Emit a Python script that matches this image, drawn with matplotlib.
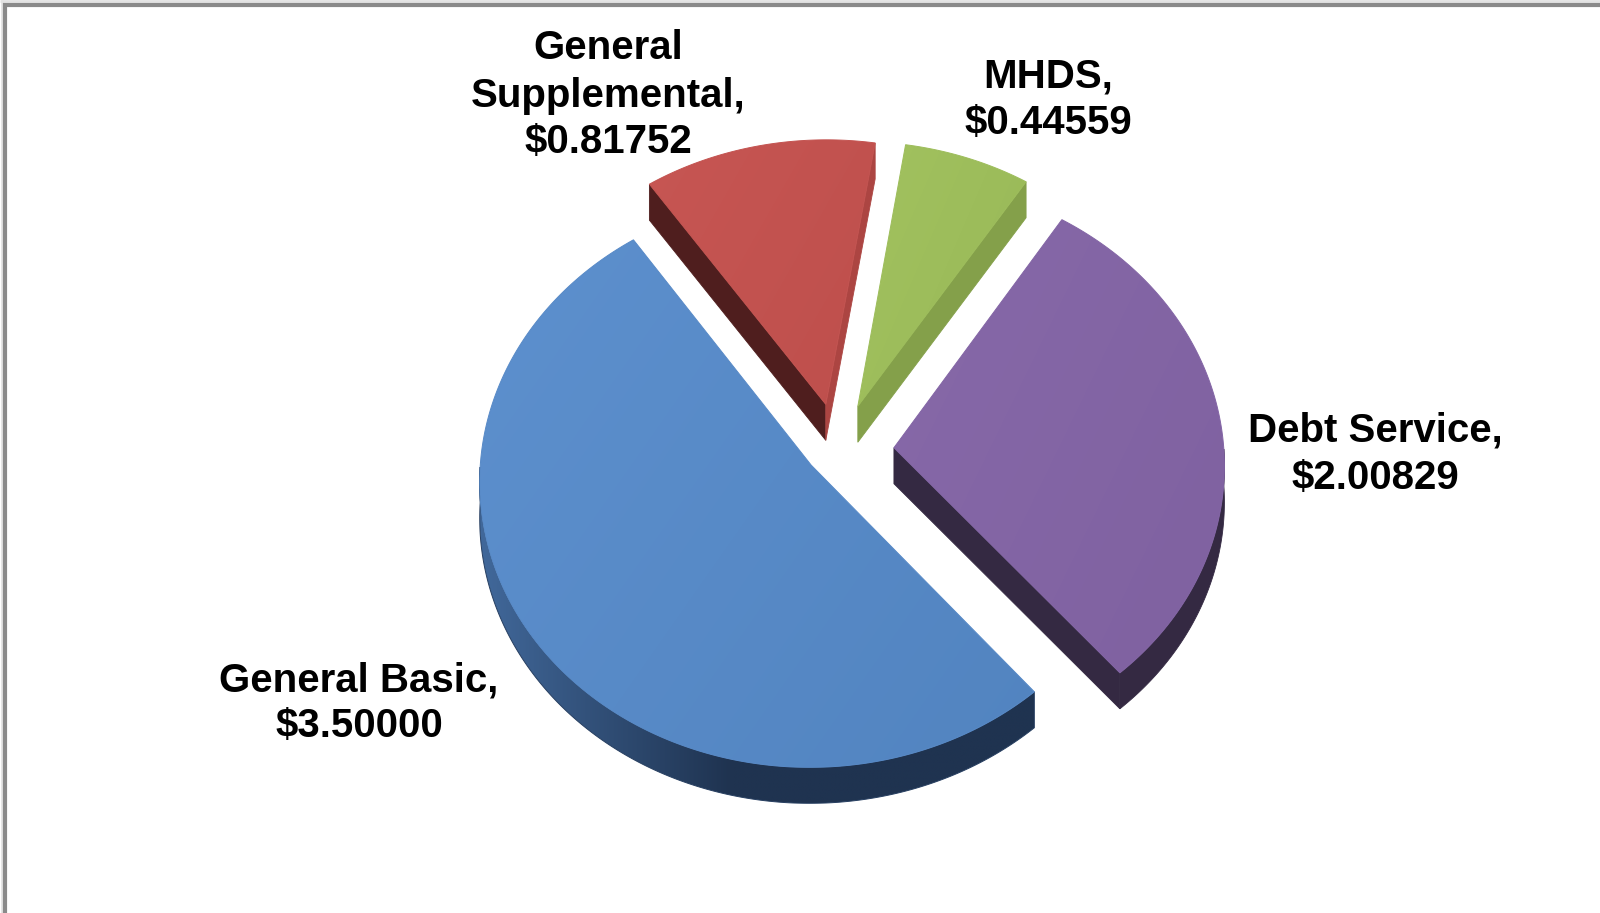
import numpy as np
import matplotlib
matplotlib.use("Agg")
import matplotlib.pyplot as plt
from matplotlib.patches import Polygon
from matplotlib.colors import to_rgb

# ---------------- data ----------------
categories = ["General Basic", "General Supplemental", "MHDS", "Debt Service"]
values = [3.50000, 0.81752, 0.44559, 2.00829]
label_lines = [
    ["General Basic,", "$3.50000"],
    ["General", "Supplemental,", "$0.81752"],
    ["MHDS,", "$0.44559"],
    ["Debt Service,", "$2.00829"],
]

# ---------------- style / layout ----------------
top_light = ["#5D90CE", "#C75653", "#A2C25F", "#8769A9"]
top_dark = ["#5284C0", "#BE4F4C", "#98B857", "#7F61A0"]
edge_hi_col = ["#1F3350", "#4F1E1E", "#5E7536", "#342942"]   # cut face at start edge
edge_lo_col = ["#1F3350", "#AC4542", "#84A04A", "#342942"]   # cut face at end edge
rim_light = ["#41689A", "#4F1E1E", "#84A04A", "#342942"]
rim_dark = ["#1F3350", "#4F1E1E", "#84A04A", "#342942"]
explode = [0.095, 0.17, 0.17, 0.17]
explode_turn = [-6.0, 0.0, 0.0, 0.0]
label_pos = [(359, [692, 737]), (608, [59, 107, 153]), (1048, [87, 134]), (1375, [442, 489])]

W, H = 1600, 913
CX, CY, RX, RY, P, DEPTH = 838, 451, 330, 284, 0.055, 36
START = -49.5

fig = plt.figure(figsize=(16, 9.13), dpi=100)
ax = fig.add_axes([0, 0, 1, 1])
ax.set_xlim(0, W)
ax.set_ylim(H, 0)
ax.axis("off")


def proj(u, v, dz=0.0):
    u = np.asarray(u, float)
    v = np.asarray(v, float)
    w = 1 + P * v
    return np.column_stack([CX + RX * u / w, CY - RY * v / w + dz])


def grad_poly(xy, c1, c2, z, wx=0.6, wy=0.4, xr=None):
    patch = Polygon(xy, closed=True, facecolor="none", edgecolor="none", zorder=z)
    ax.add_patch(patch)
    x0, y0 = xy.min(0)
    x1, y1 = xy.max(0)
    n = 128
    gx = np.linspace(0, 1, n)
    gy = np.linspace(0, 1, n)
    if xr is not None:
        xs = np.linspace(x0, x1, n)
        gx = np.clip((xs - xr[0]) / (xr[1] - xr[0]), 0, 1)
    G = np.clip(gx[None, :] * wx + gy[:, None] * wy, 0, 1)
    a, b = np.array(to_rgb(c1)), np.array(to_rgb(c2))
    img = a[None, None, :] * (1 - G[..., None]) + b[None, None, :] * G[..., None]
    im = ax.imshow(img, extent=(x0, x1, y1, y0), origin="upper",
                   interpolation="bilinear", zorder=z, aspect="auto")
    im.set_clip_path(patch)
    mid = img.reshape(-1, 3).mean(0)
    ax.add_patch(Polygon(xy, closed=True, facecolor="none", edgecolor=mid,
                         lw=0.7, zorder=z + 0.01))


fr = np.array(values) / np.sum(values)
cum = np.concatenate([[0], np.cumsum(fr)])
a0s = START - 360 * cum[:-1]
a1s = START - 360 * cum[1:]

for i in range(len(values)):
    a0, a1 = a0s[i], a1s[i]
    mid = np.radians((a0 + a1) / 2 + explode_turn[i])
    ou, ov = explode[i] * np.cos(mid), explode[i] * np.sin(mid)
    t = np.radians(np.linspace(a0, a1, 400))
    au, av = ou + np.cos(t), ov + np.sin(t)

    # rim (near half only)
    vis = np.sin(t) < 0
    if vis.any():
        idx = np.where(vis)[0]
        sl = slice(idx[0], idx[-1] + 1)
        top = proj(au[sl], av[sl])
        bot = proj(au[sl], av[sl], DEPTH)
        rim = np.vstack([top, bot[::-1]])
        if i == 0:
            grad_poly(rim, rim_light[i], rim_dark[i], 2, wx=1.0, wy=0.0, xr=(480, 730))
        else:
            ax.add_patch(Polygon(rim, closed=True, facecolor=rim_dark[i],
                                 edgecolor=rim_dark[i], lw=0.6, zorder=2))

    # cut faces
    for ang, visible, col in [(a0, np.cos(np.radians(a0)) < 0, edge_hi_col[i]),
                              (a1, np.cos(np.radians(a1)) > 0, edge_lo_col[i])]:
        if not visible:
            continue
        r = np.radians(ang)
        uu = [ou, ou + np.cos(r)]
        vv = [ov, ov + np.sin(r)]
        top = proj(uu, vv)
        bot = proj(uu, vv, DEPTH)
        quad = np.vstack([top, bot[::-1]])
        ax.add_patch(Polygon(quad, closed=True, facecolor=col, edgecolor=col,
                             lw=0.6, zorder=2.5))

    # top face
    poly = proj(np.concatenate([[ou], au]), np.concatenate([[ov], av]))
    grad_poly(poly, top_light[i], top_dark[i], 3)

# labels
for (x, ys), lines in zip(label_pos, label_lines):
    for y, s in zip(ys, lines):
        ax.text(x, y, s, ha="center", va="baseline", fontsize=29,
                fontweight="bold", family=["Liberation Sans", "DejaVu Sans"],
                color="black", parse_math=False, zorder=5)

# frame (top and left border only visible)
ax.plot([0, W], [1.5, 1.5], color="#e2e2e2", lw=2, solid_capstyle="butt", zorder=6)
ax.plot([1.5, 1.5], [0, H], color="#e2e2e2", lw=2, solid_capstyle="butt", zorder=6)
ax.plot([3, W], [5.5, 5.5], color="#8a8a8a", lw=3, solid_capstyle="butt", zorder=7)
ax.plot([5, 5], [3, H], color="#8a8a8a", lw=3, solid_capstyle="butt", zorder=7)

ax.set_xlim(0, W)
ax.set_ylim(H, 0)
fig.savefig("out.png", dpi=100)
